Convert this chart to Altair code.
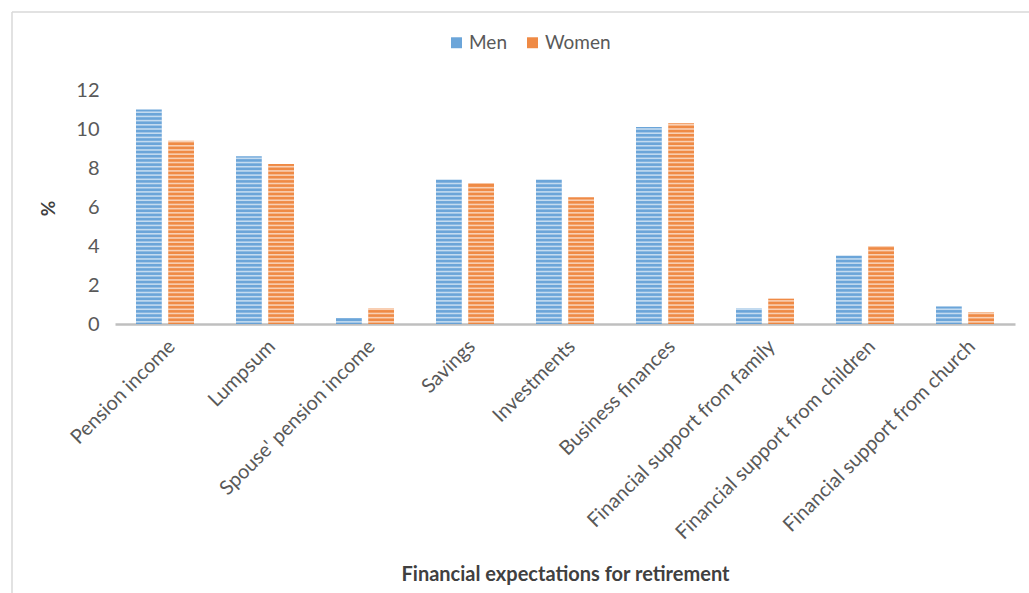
import altair as alt
import pandas as pd

categories = ["Pension income", "Lumpsum", "Spouse' pension income", "Savings",
              "Investments", "Business finances", "Financial support from family",
              "Financial support from children", "Financial support from church"]
men = [11.0, 8.6, 0.3, 7.4, 7.4, 10.1, 0.8, 3.5, 0.9]
women = [9.4, 8.2, 0.8, 7.2, 6.5, 10.3, 1.3, 4.0, 0.6]
series = ["Men", "Women"]
colors = ["#5B9BD5", "#ED7D31"]
y_ticks = [0, 2, 4, 6, 8, 10, 12]

rows = []
for c, m, w in zip(categories, men, women):
    rows.append({"cat": c, "series": "Men", "value": m})
    rows.append({"cat": c, "series": "Women", "value": w})
df = pd.DataFrame(rows)

FONT = "Lato"
GREY = "#595959"

x_axis = alt.Axis(title="Financial expectations for retirement",
                  labelAngle=-45, labelFontSize=20, labelFont=FONT,
                  labelColor=GREY, labelPadding=12, ticks=False,
                  domainColor="#BFBFBF", domainWidth=2.5,
                  titleFont=FONT, titleFontSize=20, titleFontWeight="bold",
                  titleColor="#404040", titleY=250, titleBaseline="middle",
                  labelLimit=400)
x_scale = alt.Scale(paddingInner=0.42, paddingOuter=0.21)
y_axis = alt.Axis(title="%", values=y_ticks, grid=False,
                  labelOverlap=False, domain=False, ticks=False,
                  labelFontSize=20, labelFont=FONT, labelColor=GREY,
                  labelPadding=16, titleFont=FONT, titleFontSize=19,
                  titleFontWeight="bold", titleColor="#404040",
                  titleX=-57, titleY=118, titleAngle=-90)
y_scale = alt.Scale(domain=[0, 12])
xo_enc = alt.XOffset("series:N", sort=series,
                     scale=alt.Scale(paddingInner=0.2, paddingOuter=0))
color_enc = alt.Color("series:N", sort=series,
                      scale=alt.Scale(domain=series, range=colors),
                      legend=alt.Legend(title=None, orient="none", direction="horizontal",
                                        legendX=332, legendY=-57, symbolType="square",
                                        symbolSize=120, labelFontSize=19, labelFont=FONT,
                                        labelColor=GREY, columnPadding=16, labelOffset=3,
                                        symbolStrokeWidth=0))

bars = alt.Chart(df).mark_bar(opacity=0.9).encode(
    x=alt.X("cat:N", sort=categories, scale=x_scale, axis=x_axis),
    xOffset=xo_enc,
    y=alt.Y("value:Q", scale=y_scale, axis=y_axis),
    color=color_enc)

stripes = alt.Chart(df).transform_calculate(
    lv="sequence(0.11, datum.value, 0.215)"
).transform_flatten(["lv"]).mark_tick(
    color="white", opacity=0.6, thickness=1.6, size=26, orient="horizontal"
).encode(
    x=alt.X("cat:N", sort=categories, scale=x_scale, axis=x_axis),
    xOffset=xo_enc,
    y=alt.Y("lv:Q", scale=y_scale, axis=y_axis))

frame_df = pd.DataFrame({"k": [0]})
frame_top = alt.Chart(frame_df).mark_rule(color="#D9D9D9", strokeWidth=1.5).encode(
    x=alt.value(-103), x2=alt.value(930), y=alt.value(-78))
frame_left = alt.Chart(frame_df).mark_rule(color="#D9D9D9", strokeWidth=1.5).encode(
    x=alt.value(-103), y=alt.value(-78), y2=alt.value(520))

chart = alt.layer(frame_top, frame_left, bars, stripes).properties(
    width=900, height=234, background="white",
    autosize=alt.AutoSizeParams(type="none"),
    padding={"left": 115, "top": 90, "right": 14, "bottom": 269},
).configure_view(stroke=None)

chart.save("out.html", embed_options={"renderer": "svg", "actions": False})
